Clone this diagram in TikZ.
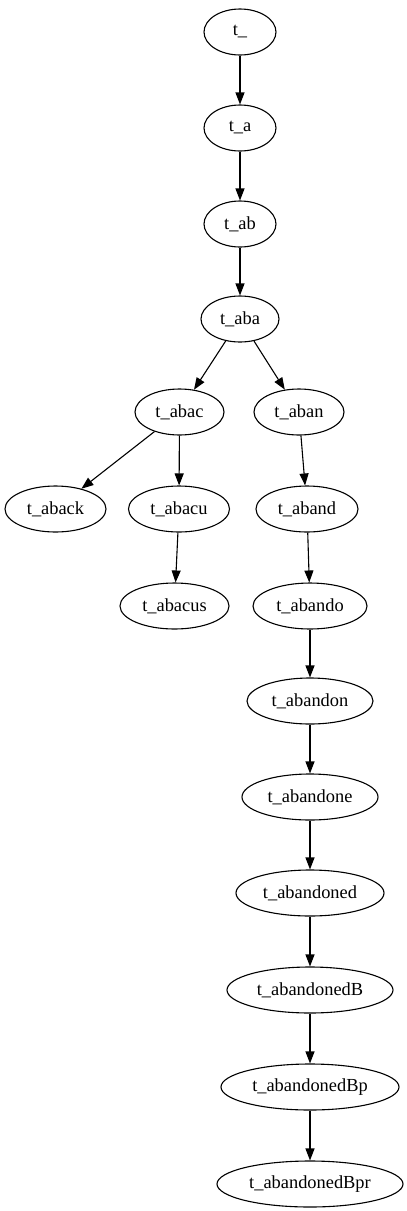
\documentclass[tikz,border=0pt]{standalone}
\usepackage{fontspec}
\setmainfont{Liberation Serif}
\usetikzlibrary{shapes.geometric,arrows.meta}
\begin{document}
\begin{tikzpicture}[x=1pt,y=-1pt,
  tnode/.style={draw,ellipse,line width=1.1pt,inner sep=0pt,minimum height=46pt,font=\fontsize{18.4}{20}\selectfont},
  edge/.style={draw,line width=1.1pt,-{Triangle[length=12pt,width=9pt]}}]
\useasboundingbox (0,0) rectangle (407,1211);
\node[tnode,minimum width=72pt] (n0) at (240,32) {t\_};
\node[tnode,minimum width=72pt] (n1) at (240,128) {t\_a};
\node[tnode,minimum width=72pt] (n2) at (240,224) {t\_ab};
\node[tnode,minimum width=78pt] (n3) at (240,319) {t\_aba};
\node[tnode,minimum width=89pt] (abac) at (179.5,412) {t\_abac};
\node[tnode,minimum width=90pt] (aban) at (299,412) {t\_aban};
\node[tnode,minimum width=101pt] (aback) at (55.5,509) {t\_aback};
\node[tnode,minimum width=101pt] (abacu) at (179,509) {t\_abacu};
\node[tnode,minimum width=109pt] (abacus) at (174.5,606) {t\_abacus};
\node[tnode,minimum width=102pt] (aband) at (307,509) {t\_aband};
\node[tnode,minimum width=114pt] (abando) at (310,606) {t\_abando};
\node[tnode,minimum width=126pt] (abandon) at (310,701) {t\_abandon};
\node[tnode,minimum width=136pt] (abandone) at (310,797) {t\_abandone};
\node[tnode,minimum width=148pt] (abandoned) at (310,893) {t\_abandoned};
\node[tnode,minimum width=166pt] (abandonedB) at (310,990) {t\_abandonedB};
\node[tnode,minimum width=178pt] (abandonedBp) at (310,1087) {t\_abandonedBp};
\node[tnode,minimum width=186pt] (abandonedBpr) at (310,1184) {t\_abandonedBpr};
\path[edge] (n0) -- (n1);
\path[edge] (n1) -- (n2);
\path[edge] (n2) -- (n3);
\path[edge] (n3) -- (abac);
\path[edge] (n3) -- (aban);
\path[edge] (abac) -- (aback);
\path[edge] (abac) -- (abacu);
\path[edge] (abacu) -- (abacus);
\path[edge] (aban) -- (aband);
\path[edge] (aband) -- (abando);
\path[edge] (abando) -- (abandon);
\path[edge] (abandon) -- (abandone);
\path[edge] (abandone) -- (abandoned);
\path[edge] (abandoned) -- (abandonedB);
\path[edge] (abandonedB) -- (abandonedBp);
\path[edge] (abandonedBp) -- (abandonedBpr);
\end{tikzpicture}
\end{document}
